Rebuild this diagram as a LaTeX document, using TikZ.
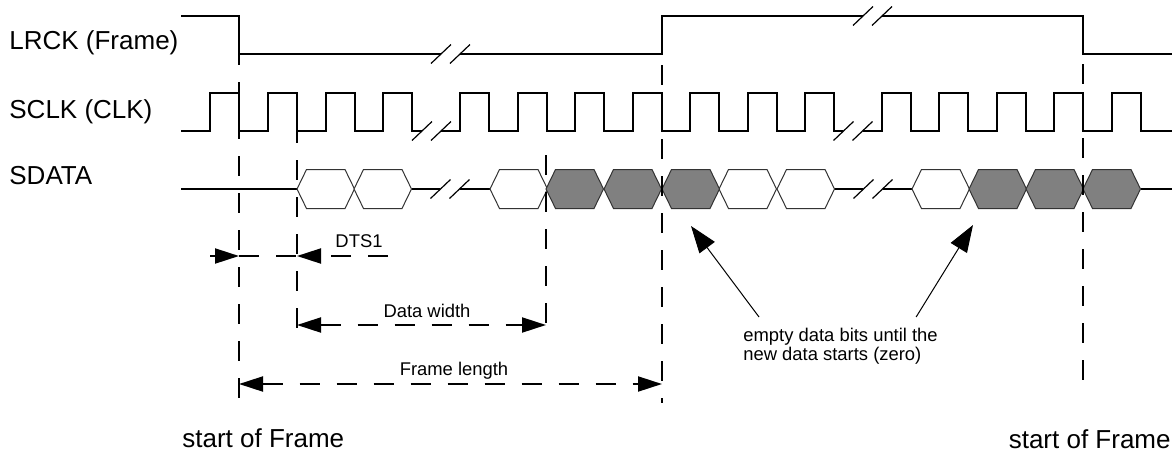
\documentclass[tikz,border=0pt]{standalone}
\usepackage{fontspec}
\setmainfont{Liberation Sans}
\usepackage{tikz}
\usetikzlibrary{arrows.meta}
\definecolor{bitgray}{HTML}{808080}
\definecolor{bitline}{HTML}{333333}

\tikzset{
    pics/databit/.style={code={
        \draw[line width=0.5pt, draw=bitline, fill=#1] (0,0) -- (9.5,19.5) -- (48,19.5) -- (57.5,0) -- (48,-19.5) -- (9.5,-19.5) -- cycle;
    }},
    pics/databit/.default=white,
    pics/brk/.style={code={
        \draw[line width=0.6pt] (-19.5,9.5) -- (0.5,-9.5) (-0.5,9.5) -- (19.5,-9.5);
    }}
}

\begin{document}
\begin{tikzpicture}[
        x=0.5pt, y=-0.5pt,
        sig/.style={line width=1pt},
        guide/.style={line width=1pt, dash pattern=on 10pt off 8.5pt},
        dimline/.style={line width=1pt, dash pattern=on 10pt off 8.5pt},
        dimtip/.style={-{Triangle[length=12pt, width=7.5pt]}},
        dimboth/.style={{Triangle[length=12pt, width=7.5pt]}-{Triangle[length=12pt, width=7.5pt]}},
        callout/.style={line width=0.5pt, -{Triangle[length=13.5pt, width=9.5pt]}},
        lbl/.style={font=\fontsize{13}{15}\selectfont, inner sep=0pt},
        small/.style={font=\fontsize{9.2}{9.6}\selectfont, inner sep=0pt}
    ]
        \useasboundingbox (0,0) rectangle (1174,451);

        % signal names
        \node[lbl, anchor=base west] (lrck) at (9,49) {LRCK (Frame)};
        \node[lbl, anchor=base west] (sclk) at (9,118) {SCLK (CLK)};
        \node[lbl, anchor=base west] (sdata) at (9,184) {SDATA};

        % LRCK
        \draw[sig] (181,16) -- (239,16) -- (239,54) -- (441,54)
            (460,54) -- (662,54) -- (662,16) -- (863,16)
            (882,16) -- (1083,16) -- (1083,54) -- (1172,54);
        \pic at (450.5,54) {brk};
        \pic at (872.5,16) {brk};

        % SCLK
        \draw[sig] (181,131) foreach \x in {210,268,326,383} {-- (\x,131) -- (\x,93) -- ({\x+28.8},93) -- ({\x+28.8},131)} -- (422,131);
        \draw[sig] (441,131) foreach \x in {460,518,575,633,690,748,805} {-- (\x,131) -- (\x,93) -- ({\x+28.8},93) -- ({\x+28.8},131)} -- (843,131);
        \draw[sig] (863,131) foreach \x in {882,939,997,1054,1112} {-- (\x,131) -- (\x,93) -- ({\x+28.8},93) -- ({\x+28.8},131)} -- (1172,131);
        \pic at (431.5,131) {brk};
        \pic at (853,131) {brk};

        % SDATA
        \draw[sig] (181,189) -- (297,189) (412,189) -- (440,189) (460,189) -- (490,189)
            (833,189) -- (863,189) (883,189) -- (912,189) (1141,189) -- (1172,189);
        \pic at (450,189) {brk};
        \pic at (873,189) {brk};
        \foreach \x in {297,354,490,719,777,912}
            \pic at (\x,189) {databit};
        \foreach \x in {546,604,662,969,1026,1083}
            \pic at (\x,189) {databit=bitgray};

        % guide lines
        \foreach \x/\ya/\yb in {239/45/402, 297/123/332, 546/155/327, 662/65/403, 1083/64/382}
            \draw[guide] (\x,\ya) -- (\x,\yb);

        % DTS1
        \coordinate (dts-a) at (210,256);
        \coordinate (dts-b) at (239,256);
        \coordinate (dts-c) at (297,256);
        \coordinate (dts-d) at (388,256);
        \draw[dimline, dimtip] (dts-a) -- (dts-b);
        \draw[dimline] (dts-b) -- (dts-c);
        \draw[dimline, dimtip] (dts-d) -- (dts-c);
        \node[small, anchor=base] (dts) at (359,247) {DTS1};

        % Data width
        \coordinate (dw-l) at (297,325);
        \coordinate (dw-r) at (546,325);
        \draw[dimline, dimboth] (dw-l) -- (dw-r);
        \node[small, anchor=base] (dw) at (427,317) {Data width};

        % Frame length
        \coordinate (fl-l) at (239,384);
        \coordinate (fl-r) at (662,384);
        \draw[dimline, dimboth] (fl-l) -- (fl-r);
        \node[small, anchor=base] (fl) at (454,375) {Frame length};

        % empty bits note
        \node[small, anchor=north west, align=left] (note) at (743,328) {empty data bits until the\\new data starts (zero)};
        \coordinate (tip1) at (691,226);
        \coordinate (tip2) at (973,225);
        \draw[callout] ([xshift=8pt, yshift=5.5pt]note.north west) -- (tip1);
        \draw[callout] ([xshift=-11pt, yshift=5.5pt]note.north east) -- (tip2);

        % frame starts
        \node[lbl, anchor=base west] (sof1) at (182,447) {start of Frame};
        \node[lbl, anchor=base east] (sof2) at (1171,448) {start of Frame};
    \end{tikzpicture}
\end{document}
